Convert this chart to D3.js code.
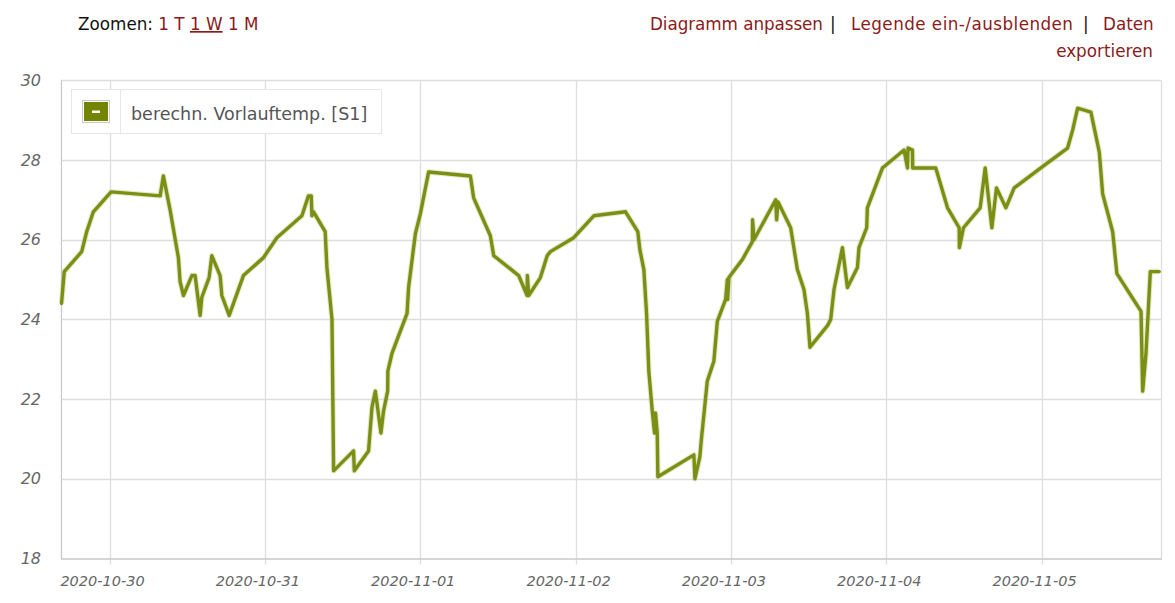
<!DOCTYPE html>
<html>
<head>
<meta charset="utf-8">
<script src="https://cdn.jsdelivr.net/npm/d3@7"></script>
<style>
  html, body { margin: 0; padding: 0; background: #fff; }
  svg { display: block; font-family: "DejaVu Sans", Verdana, sans-serif; }
</style>
</head>
<body>
<svg id="chart" width="1175" height="603"></svg>
<script>
// ---- data ----
const seriesName = "berechn. Vorlauftemp. [S1]";
const times = [
  "2020-10-29 16:35","2020-10-29 17:00","2020-10-29 19:42","2020-10-29 20:28","2020-10-29 21:30",
  "2020-10-30 00:14","2020-10-30 07:49","2020-10-30 08:19","2020-10-30 09:21","2020-10-30 10:38",
  "2020-10-30 10:54","2020-10-30 11:25","2020-10-30 12:43","2020-10-30 13:13","2020-10-30 14:00",
  "2020-10-30 14:15","2020-10-30 15:23","2020-10-30 15:48","2020-10-30 17:05","2020-10-30 17:21",
  "2020-10-30 18:29","2020-10-30 20:41","2020-10-30 23:47","2020-10-31 01:51","2020-10-31 05:43",
  "2020-10-31 06:44","2020-10-31 07:10","2020-10-31 07:16","2020-10-31 07:31","2020-10-31 09:19",
  "2020-10-31 09:35","2020-10-31 10:22","2020-10-31 10:37","2020-10-31 13:42","2020-10-31 13:49",
  "2020-10-31 16:01","2020-10-31 16:33","2020-10-31 17:04","2020-10-31 17:56","2020-10-31 18:20",
  "2020-10-31 18:58","2020-10-31 19:00","2020-10-31 19:38","2020-10-31 21:58","2020-10-31 22:12",
  "2020-10-31 23:15","2020-11-01 00:01","2020-11-01 01:18","2020-11-01 07:45","2020-11-01 08:15",
  "2020-11-01 10:50","2020-11-01 11:21","2020-11-01 15:13","2020-11-01 16:31","2020-11-01 16:33",
  "2020-11-01 16:46","2020-11-01 18:34","2020-11-01 19:37","2020-11-01 20:07","2020-11-01 23:43",
  "2020-11-02 02:49","2020-11-02 07:43","2020-11-02 09:37","2020-11-02 09:56","2020-11-02 10:33",
  "2020-11-02 10:58","2020-11-02 11:19","2020-11-02 11:51","2020-11-02 12:12","2020-11-02 12:21",
  "2020-11-02 12:37","2020-11-02 12:43","2020-11-02 18:17","2020-11-02 18:26","2020-11-02 19:12",
  "2020-11-02 19:25","2020-11-02 20:21","2020-11-02 21:22","2020-11-02 21:54","2020-11-02 23:11",
  "2020-11-02 23:27","2020-11-02 23:30","2020-11-02 23:41","2020-11-03 01:46","2020-11-03 03:19",
  "2020-11-03 03:21","2020-11-03 03:34","2020-11-03 06:55","2020-11-03 07:04","2020-11-03 07:16",
  "2020-11-03 09:14","2020-11-03 10:16","2020-11-03 11:17","2020-11-03 11:49","2020-11-03 12:13",
  "2020-11-03 14:57","2020-11-03 15:25","2020-11-03 15:56","2020-11-03 17:14","2020-11-03 18:00",
  "2020-11-03 19:33","2020-11-03 19:47","2020-11-03 20:59","2020-11-03 21:05","2020-11-03 23:25",
  "2020-11-04 02:45","2020-11-04 03:17","2020-11-04 03:22","2020-11-04 04:03","2020-11-04 04:05",
  "2020-11-04 07:39","2020-11-04 09:28","2020-11-04 11:16","2020-11-04 11:18","2020-11-04 11:56",
  "2020-11-04 14:31","2020-11-04 15:17","2020-11-04 16:19","2020-11-04 17:02","2020-11-04 18:29",
  "2020-11-04 19:46","2020-11-04 23:53","2020-11-05 04:01","2020-11-05 04:48","2020-11-05 05:34",
  "2020-11-05 07:37","2020-11-05 08:55","2020-11-05 09:26","2020-11-05 10:59","2020-11-05 11:38",
  "2020-11-05 15:22","2020-11-05 15:37","2020-11-05 16:08","2020-11-05 16:48","2020-11-05 18:11"
];
const values = [
  24.4, 25.2, 25.7, 26.2, 26.7,
  27.2, 27.1, 27.6, 26.75, 25.55,
  24.95, 24.6, 25.1, 25.1, 24.1,
  24.55, 25.05, 25.6, 25.1, 24.6,
  24.1, 25.1, 25.55, 26.05, 26.6,
  27.1, 27.1, 26.6, 26.7, 26.2,
  25.3, 24.0, 20.2, 20.7, 20.2,
  20.7, 21.8, 22.2, 21.15, 21.7,
  22.2, 22.7, 23.15, 24.15, 24.8,
  26.15, 26.65, 27.7, 27.6, 27.05,
  26.1, 25.6, 25.1, 24.6, 25.1,
  24.6, 25.05, 25.6, 25.7, 26.05,
  26.6, 26.7, 26.2, 25.75, 25.25,
  24.15, 22.7, 21.7, 21.15, 21.65,
  21.15, 20.05, 20.6, 20.0, 20.55,
  20.95, 22.45, 22.95, 23.95, 24.5,
  25.0, 24.5, 25.05, 25.5, 25.95,
  26.5, 26.0, 27.0, 26.5, 26.95,
  26.3, 25.25, 24.75, 24.15, 23.3,
  23.85, 24.0, 24.75, 25.8, 24.8,
  25.3, 25.8, 26.3, 26.8, 27.8,
  28.25, 27.8, 28.3, 28.25, 27.8,
  27.8, 26.8, 26.3, 25.8, 26.3,
  26.8, 27.8, 26.3, 27.3, 26.8,
  27.3, 27.8, 28.3, 28.75, 29.3,
  29.2, 28.2, 27.15, 26.2, 25.15,
  24.2, 22.2, 23.15, 25.2, 25.2
];
const yTicks = [18, 20, 22, 24, 26, 28, 30];
const xDomain = ["2020-10-29 16:30", "2020-11-05 18:27"];
const zoomLinks = ["1 T", "1 W", "1 M"];
const topLinks = ["Diagramm anpassen", "Legende ein-/ausblenden", "Daten", "exportieren"];

// ---- drawing ----
const svg = d3.select("#chart");
const parse = d3.timeParse("%Y-%m-%d %H:%M");
const data = times.map((t, i) => ({ t: parse(t), v: values[i] }));

const L = 61, R = 1161, T = 80.3, B = 558.5;
const x = d3.scaleTime().domain(xDomain.map(parse)).range([L, R]);
const y = d3.scaleLinear().domain([18, 30]).range([B, T]);

const gridColor = "#dedede";
const dayTicks = x.ticks(d3.timeDay.every(1));

// horizontal grid
svg.append("g").selectAll("line").data(yTicks.filter(d => d > 18)).join("line")
  .attr("x1", L).attr("x2", R)
  .attr("y1", d => Math.round(y(d)) + 0.5).attr("y2", d => Math.round(y(d)) + 0.5)
  .attr("stroke", gridColor).attr("stroke-width", 1.3);

// vertical grid + ticks
svg.append("g").selectAll("line").data(dayTicks).join("line")
  .attr("x1", d => Math.round(x(d)) + 0.5).attr("x2", d => Math.round(x(d)) + 0.5)
  .attr("y1", T).attr("y2", B + 6)
  .attr("stroke", gridColor).attr("stroke-width", 1.3);

// right border
svg.append("line").attr("x1", R + 0.5).attr("x2", R + 0.5).attr("y1", T).attr("y2", B)
  .attr("stroke", gridColor).attr("stroke-width", 1.3);

// axes lines
svg.append("line").attr("x1", L + 0.5).attr("x2", L + 0.5).attr("y1", T).attr("y2", B + 1)
  .attr("stroke", "#c8c8c8").attr("stroke-width", 1.3);
svg.append("line").attr("x1", L).attr("x2", R + 1).attr("y1", B + 0.5).attr("y2", B + 0.5)
  .attr("stroke", "#c8c8c8").attr("stroke-width", 1.3);

// y labels
svg.append("g").selectAll("text").data(yTicks).join("text")
  .attr("x", 41).attr("y", d => y(d)).attr("dy", "0.35em")
  .attr("text-anchor", "end").attr("font-style", "italic")
  .attr("font-size", 16).attr("fill", "#666")
  .text(d => d);

// x labels
const fmt = d3.timeFormat("%Y-%m-%d");
svg.append("g").selectAll("text").data(dayTicks).join("text")
  .attr("x", d => x(d) - 7).attr("y", 586)
  .attr("text-anchor", "middle").attr("font-style", "italic")
  .attr("font-size", 14.5).attr("fill", "#666")
  .text(d => fmt(d));

// series line
const lineGen = d3.line().x(d => x(d.t)).y(d => y(d.v));
svg.append("path").datum(data)
  .attr("d", lineGen)
  .attr("fill", "none").attr("stroke", "#b9c777").attr("stroke-width", 5.5)
  .attr("stroke-opacity", 0.4).attr("stroke-linejoin", "round");
svg.append("path").datum(data)
  .attr("d", lineGen)
  .attr("fill", "none").attr("stroke", "#7b8f14").attr("stroke-width", 3.4)
  .attr("stroke-linejoin", "round").attr("stroke-linecap", "round");

// legend
const lg = svg.append("g");
lg.append("rect").attr("x", 71.5).attr("y", 89.5).attr("width", 310).attr("height", 44)
  .attr("fill", "#fff").attr("stroke", "#e6e6e6");
lg.append("line").attr("x1", 120.5).attr("x2", 120.5).attr("y1", 90).attr("y2", 133)
  .attr("stroke", "#e6e6e6");
lg.append("rect").attr("x", 82.5).attr("y", 100.5).attr("width", 27).attr("height", 22)
  .attr("fill", "#fff").attr("stroke", "#c8c8c8");
lg.append("rect").attr("x", 84).attr("y", 102).attr("width", 24).attr("height", 19)
  .attr("fill", "#738400");
lg.append("rect").attr("x", 92).attr("y", 110.5).attr("width", 8).attr("height", 2.5)
  .attr("fill", "#fff");
lg.append("text").attr("x", 131).attr("y", 119.5).attr("font-size", 17.5)
  .attr("fill", "#555").text(seriesName);

// top controls
const linkColor = "#8b1a1a";
const fs = 16.8;
const zoomText = svg.append("text").attr("x", 78).attr("y", 30).attr("font-size", fs).attr("fill", "#111");
zoomText.append("tspan").text("Zoomen: ");
zoomLinks.forEach((z, i) => {
  zoomText.append("tspan").attr("fill", linkColor)
    .attr("text-decoration", i === 1 ? "underline" : null)
    .text(z);
  if (i < zoomLinks.length - 1) zoomText.append("tspan").text(" ");
});

const topRow = [
  { t: topLinks[0], x: 650, c: linkColor, w: 173 },
  { t: "|", x: 830, c: "#111" },
  { t: topLinks[1], x: 851, c: linkColor, w: 222 },
  { t: "|", x: 1083, c: "#111" },
  { t: topLinks[2], x: 1103, c: linkColor }
];
svg.append("g").selectAll("text").data(topRow).join("text")
  .attr("x", d => d.x).attr("y", 30).attr("font-size", fs)
  .attr("textLength", d => d.w || null)
  .attr("lengthAdjust", d => d.w ? "spacing" : null)
  .attr("fill", d => d.c).text(d => d.t);
svg.append("text").attr("x", 1153).attr("y", 57).attr("font-size", fs)
  .attr("text-anchor", "end").attr("fill", linkColor).text(topLinks[3]);
</script>
</body>
</html>
